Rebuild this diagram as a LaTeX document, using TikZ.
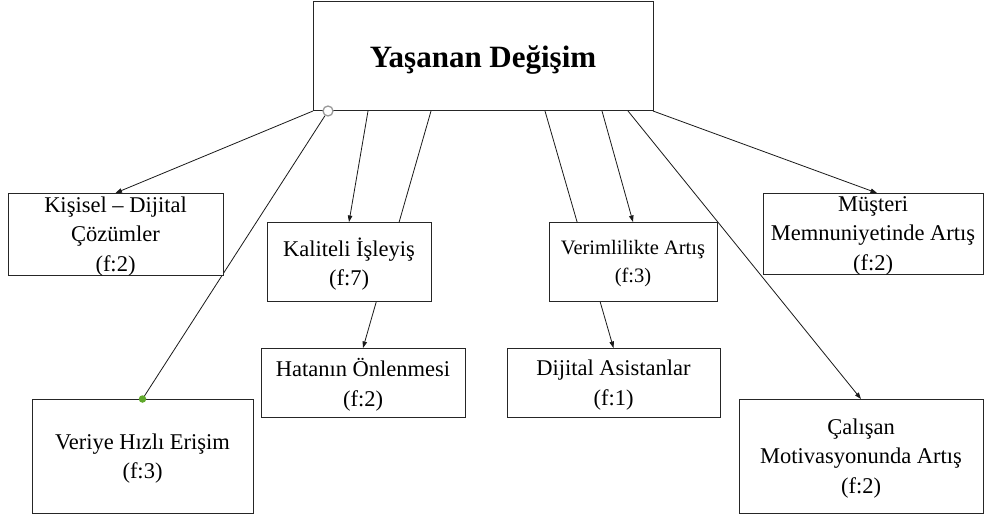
\documentclass[tikz,border=0pt]{standalone}
\usepackage{fontspec}
\setmainfont{Liberation Serif}
\usetikzlibrary{arrows.meta,backgrounds}
\definecolor{handlegreen}{HTML}{5FA82B}
\begin{document}
\begin{tikzpicture}[x=1pt,y=-1pt,
  box/.style={draw=black!85, line width=1pt, fill=white, inner sep=0pt, outer sep=0pt,
              align=center, text depth=0pt, font=\fontsize{22.5}{29.5}\selectfont},
  link/.style={draw=black!90, line width=0.8pt},
  arr/.style={link, -{Triangle[length=6.5pt,width=4.5pt]}},
]
\useasboundingbox (0,0) rectangle (984,516);

% central topic
\node[box, minimum width=340pt, minimum height=109pt,
      font=\fontsize{31}{36}\selectfont\bfseries] (main) at (483,56.5) {Yaşanan Değişim};

% outcome boxes
\node[box, minimum width=215pt, minimum height=82pt] (kis) at (115.5,234) {Kişisel – Dijital\\Çözümler\\(f:2)};
\node[box, minimum width=164pt, minimum height=79pt] (kal) at (349,261.5) {Kaliteli İşleyiş\\(f:7)};
\node[box, minimum width=168pt, minimum height=79pt, font=\fontsize{20.5}{28.5}\selectfont] (ver) at (633,261.5) {Verimlilikte Artış\\(f:3)};
\node[box, minimum width=220pt, minimum height=81pt] (mus) at (873,233.5) {Müşteri\\Memnuniyetinde Artış\\(f:2)};
\node[box, minimum width=204pt, minimum height=69pt] (hat) at (363,382.5) {Hatanın Önlenmesi\\(f:2)};
\node[box, minimum width=213pt, minimum height=69pt] (dij) at (613.5,382.5) {Dijital Asistanlar\\(f:1)};
\node[box, minimum width=221pt, minimum height=114pt] (vhe) at (142.5,456) {Veriye Hızlı Erişim\\(f:3)};
\node[box, minimum width=244pt, minimum height=114pt] (cal) at (861,456) {Çalışan\\Motivasyonunda Artış\\(f:2)};

% connector handles
\node[circle, draw=black!40, line width=1.3pt, fill=white, minimum size=10pt, inner sep=0pt]
  (hub) at ([xshift=15pt]main.south west) {};
\node[circle, fill=handlegreen, minimum size=7.5pt, inner sep=0pt] (gdot) at (vhe.north) {};

% start points along the bottom edge of the central box
\coordinate (s3) at ([xshift=55pt]main.south west);
\coordinate (s4) at ([xshift=118pt]main.south west);
\coordinate (s5) at ([xshift=232pt]main.south west);
\coordinate (s6) at ([xshift=289pt]main.south west);
\coordinate (s7) at ([xshift=315pt]main.south west);

\begin{scope}[on background layer]
  \draw[arr] (main.south west) -- (kis.north);
  \draw[link] (hub) -- (gdot.center);
  \draw[arr] (s3) -- (kal.north);
  \draw[arr] (s4) -- (hat.north);
  \draw[arr] (s5) -- (dij.north);
  \draw[arr] (s6) -- (ver.north);
  \draw[arr] (s7) -- (cal.north);
  \draw[arr] (main.south east) -- ([xshift=4pt]mus.north);
\end{scope}
\end{tikzpicture}
\end{document}
